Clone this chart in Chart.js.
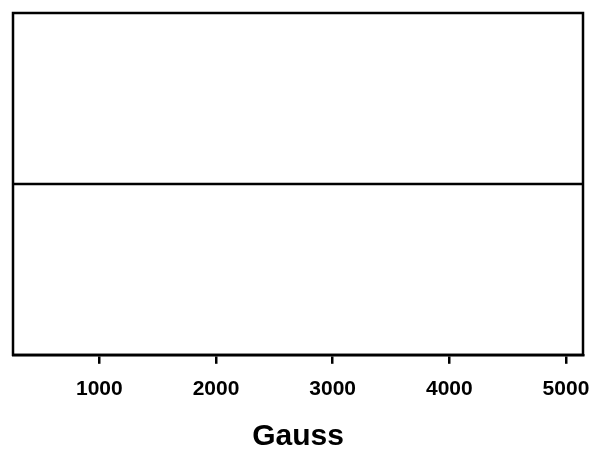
<!DOCTYPE html>
<html>
<head>
<meta charset="utf-8">
<script src="https://cdn.jsdelivr.net/npm/chart.js@4"></script>
<style>
  html, body { margin: 0; padding: 0; background: #fff; }
  #wrap { width: 600px; height: 456px; }
</style>
</head>
<body>
<div id="wrap"><canvas id="chart"></canvas></div>
<script>
// x range of the plot (Gauss) and the flat line across it
const gaussValues = [260, 5146];
const lineValues = [0.5, 0.5];
const tickValues = [1000, 2000, 3000, 4000, 5000];

// frame round the plot area
const boxPlugin = {
  id: "box",
  afterDatasetsDraw(chart) {
    const { ctx, chartArea: a } = chart;
    ctx.save();
    ctx.strokeStyle = "#000";
    ctx.lineWidth = 2.5;
    ctx.strokeRect(a.left, a.top, a.right - a.left, a.bottom - a.top);
    ctx.restore();
  }
};

new Chart(document.getElementById("chart"), {
  type: "line",
  data: {
    datasets: [{
      data: gaussValues.map((g, i) => ({ x: g, y: lineValues[i] })),
      borderColor: "#000",
      borderWidth: 2.5,
      pointRadius: 0,
      fill: false
    }]
  },
  options: {
    responsive: true,
    maintainAspectRatio: false,
    animation: false,
    layout: { padding: { left: 13, top: 13, right: 17, bottom: 1 } },
    plugins: { legend: { display: false }, tooltip: { enabled: false } },
    scales: {
      x: {
        type: "linear",
        min: gaussValues[0],
        max: gaussValues[gaussValues.length - 1],
        afterBuildTicks: s => { s.ticks = tickValues.map(v => ({ value: v })); },
        // let the last label hang into the right margin
        afterFit: s => { s.paddingRight = 0; s.paddingLeft = 0; },
        grid: { drawOnChartArea: false, drawTicks: true, tickLength: 9, color: "#000", lineWidth: 2.5 },
        border: { display: true, color: "#000", width: 2.5 },
        ticks: {
          color: "#000",
          padding: 13,
          maxRotation: 0,
          font: { family: "Liberation Sans", size: 21, weight: "bold" },
          callback: v => String(v)
        },
        title: {
          display: true,
          text: "Gauss",
          color: "#000",
          padding: { top: 4, bottom: 0 },
          font: { family: "Liberation Sans", size: 30, weight: "bold" }
        }
      },
      y: { display: false, min: 0, max: 1 }
    }
  },
  plugins: [boxPlugin]
});
</script>
</body>
</html>
